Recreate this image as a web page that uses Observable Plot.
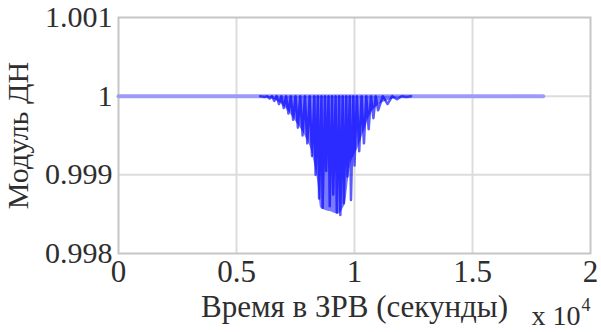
<!DOCTYPE html>
<html>
<head>
<meta charset="utf-8">
<script src="https://cdn.jsdelivr.net/npm/d3@7"></script>
<script src="https://cdn.jsdelivr.net/npm/@observablehq/plot@0.6"></script>
<style>
  html, body { margin: 0; padding: 0; background: #fff; }
  #chart svg { display: block; }
</style>
</head>
<body>
<div id="chart"></div>
<script>
// Time axis is in units of 10^4 seconds.
const xTicks = [0, 0.5, 1, 1.5, 2];
const xTickLabels = ["0", "0.5", "1", "1.5", "2"];
const yTicks = [0.998, 0.999, 1, 1.001];
const yTickLabels = ["0.998", "0.999", "1", "1.001"];

// Flat part of the pattern magnitude over the whole visibility window
const baseTime = [0, 1.8];
const baseValue = [1, 1];

// Lower envelope of the dip
const envTime = [0.61, 0.65, 0.69, 0.73, 0.76, 0.79, 0.815, 0.83, 0.845, 0.857, 0.875, 0.90, 0.93, 0.95, 0.963, 0.975, 0.985, 1.00, 1.015, 1.04, 1.07, 1.10, 1.15, 1.20, 1.24];
const envValue = [1, 0.99997, 0.99990, 0.99977, 0.99964, 0.99950, 0.99933, 0.99915, 0.99890, 0.99858, 0.99855, 0.99853, 0.9985, 0.99856, 0.99866, 0.99895, 0.99914, 0.99925, 0.99934, 0.99955, 0.99978, 0.99988, 0.99995, 0.99999, 1];

// Oscillating dip: times of each swing and the magnitude it reaches
const dipTime = [
  0.60, 0.62, 0.63, 0.64, 0.65, 0.66, 0.67, 0.68, 0.69, 0.70, 0.71, 0.72, 0.73, 0.74, 0.75,
  0.76, 0.77, 0.78, 0.79, 0.80, 0.81, 0.82, 0.83, 0.835, 0.845, 0.85, 0.86, 0.865, 0.875,
  0.88, 0.89, 0.895, 0.905, 0.91, 0.92, 0.925, 0.935, 0.94, 0.95, 0.955, 0.965, 0.97, 0.98,
  0.985, 0.995, 1.00, 1.01, 1.02, 1.03, 1.04, 1.05, 1.06, 1.07, 1.08, 1.09, 1.10, 1.12,
  1.14, 1.16, 1.18, 1.20, 1.22, 1.24
];
const dipValue = [
  1, 0.99999, 1, 0.99997, 1, 0.99994, 1, 0.99990, 1, 0.99985, 1, 0.99978, 1, 0.99970, 1,
  0.99960, 1, 0.99950, 1, 0.99940, 1, 0.99924, 1, 0.99900, 1, 0.99870, 1, 0.99858, 1,
  0.99905, 1, 0.99860, 1, 0.99875, 1, 0.99852, 1, 0.99849, 1, 0.99864, 1, 0.99898, 1,
  0.99868, 1, 0.99912, 1, 0.99930, 1, 0.99940, 1, 0.99958, 1, 0.99972, 1, 0.99982, 1,
  0.99990, 1, 0.99996, 1, 0.99999, 1
];

const base = baseTime.map((t, i) => ({t, v: baseValue[i]}));
const env = envTime.map((t, i) => ({t, v: envValue[i]}));
const dip = dipTime.map((t, i) => ({t, v: dipValue[i]}));

const fmt = (ticks, labels) => d => labels[ticks.indexOf(d)] ?? "";
const serif = "Liberation Serif, DejaVu Serif, Times New Roman, serif";
const ink = "#2e2e2e";

const chart = Plot.plot({
  width: 601,
  height: 332,
  marginLeft: 118,
  marginRight: 11,
  marginTop: 17,
  marginBottom: 79,
  style: {fontFamily: serif},
  x: {domain: [0, 2]},
  y: {domain: [0.998, 1.001]},
  marks: [
    Plot.gridX(xTicks.slice(1, -1), {stroke: "#dcdcdc", strokeOpacity: 1, strokeWidth: 2}),
    Plot.gridY(yTicks.slice(1, -1), {stroke: "#dcdcdc", strokeOpacity: 1, strokeWidth: 2}),
    Plot.frame({stroke: "#c6c6c6", strokeWidth: 2}),
    Plot.lineY(base, {x: "t", y: "v", stroke: "#9c9cf6", strokeWidth: 4}),
    Plot.areaY(env, {x: "t", y1: 1, y2: "v", fill: "#5a5aff", fillOpacity: 0.8, curve: "monotone-x"}),
    Plot.lineY(dip, {x: "t", y: "v", stroke: "#0000ff", strokeOpacity: 0.65, strokeWidth: 2.5, curve: "linear"}),
    Plot.axisX(xTicks, {
      tickSize: 0, tickPadding: 6, tickFormat: fmt(xTicks, xTickLabels),
      label: "Время в ЗРВ (секунды)", labelAnchor: "center", labelArrow: "none", labelOffset: 63,
      fontSize: 31, fontFamily: serif, fill: ink
    }),
    Plot.axisY(yTicks, {
      tickSize: 0, tickPadding: 6, tickFormat: fmt(yTicks, yTickLabels),
      label: "Модуль ДН", labelAnchor: "center", labelArrow: "none", labelOffset: 112,
      fontSize: 30, fontFamily: serif, fill: ink
    }),
    Plot.text(["x 10"], {frameAnchor: "bottom-right", dx: -10, dy: 71, textAnchor: "end", fontSize: 28, fontFamily: serif, fill: ink}),
    Plot.text(["4"], {frameAnchor: "bottom-right", dx: 0, dy: 57, textAnchor: "end", fontSize: 18, fontFamily: serif, fill: ink})
  ]
});
document.getElementById("chart").append(chart);
</script>
</body>
</html>
